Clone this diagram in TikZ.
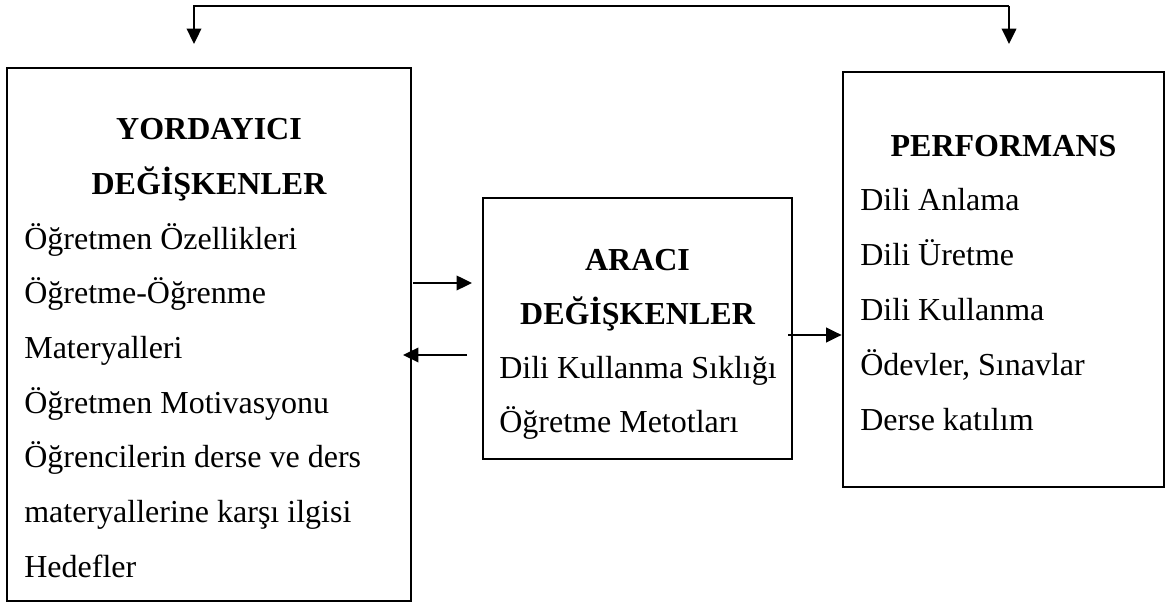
\documentclass[tikz,border=0pt]{standalone}
\usepackage{fontspec}
\setmainfont{Liberation Serif}
\usetikzlibrary{arrows.meta,fit}
\tikzset{
  box/.style={draw, inner sep=0pt},
  head/.style={anchor=base, inner sep=0pt, font=\fontsize{12}{14}\selectfont\bfseries},
  item/.style={anchor=base west, inner sep=0pt, font=\fontsize{12}{14}\selectfont},
  arr/.style={-{Triangle[length=5.8pt,width=5.4pt]}}
}
\begin{document}
\begin{tikzpicture}[line width=1pt, x=0.375pt, y=-0.375pt]
\useasboundingbox (0,0) rectangle (1171,604);
% boxes
\node[box, fit={(7,68) (411,601)}] (Y) {};
\node[box, fit={(483,198) (792,459)}] (A) {};
\node[box, fit={(843,72) (1164,487)}] (P) {};
% left box text
\node[head] (Y_h1) at (209,140) {YORDAYICI};
\node[head] (Y_h2) at (209,194.6) {DEĞİŞKENLER};
\node[item] (Y_1) at (23,249.2) {Öğretmen Özellikleri};
\node[item] (Y_2) at (23,303.9) {Öğretme-Öğrenme};
\node[item] (Y_3) at (23,358.5) {Materyalleri};
\node[item] (Y_4) at (23,413.1) {Öğretmen Motivasyonu};
\node[item] (Y_5) at (23,467.7) {Öğrencilerin derse ve ders};
\node[item] (Y_6) at (23,522.4) {materyallerine karşı ilgisi};
\node[item] (Y_7) at (23,577) {Hedefler};
% middle box text
\node[head] (A_h1) at (637.5,271) {ARACI};
\node[head] (A_h2) at (637.5,325) {DEĞİŞKENLER};
\node[item] (A_1) at (498,379) {Dili Kullanma Sıklığı};
\node[item] (A_2) at (498,433) {Öğretme Metotları};
% right box text
\node[head] (P_h1) at (1003.5,157) {PERFORMANS};
\node[item] (P_1) at (859,211) {Dili Anlama};
\node[item] (P_2) at (859,266) {Dili Üretme};
\node[item] (P_3) at (859,321) {Dili Kullanma};
\node[item] (P_4) at (859,376) {Ödevler, Sınavlar};
\node[item] (P_5) at (859,430) {Derse katılım};
% connectors
\coordinate (T_l) at (194,6);
\coordinate (T_r) at (1009,6);
\coordinate (Y_in) at (194,44);
\coordinate (P_in) at (1009,44);
\draw[arr] (T_r) -- (T_l) -- (Y_in);
\draw[arr] (T_r) -- (P_in);
\coordinate (YA_s) at (413,283);
\coordinate (YA_e) at (472,283);
\draw[arr] (YA_s) -- (YA_e);
\coordinate (AY_s) at (467,355);
\coordinate (AY_e) at (403,355);
\draw[arr] (AY_s) -- (AY_e);
\coordinate (AP_s) at (788,335);
\draw[arr] (AP_s) -- (P.west |- AP_s);
\end{tikzpicture}
\end{document}
